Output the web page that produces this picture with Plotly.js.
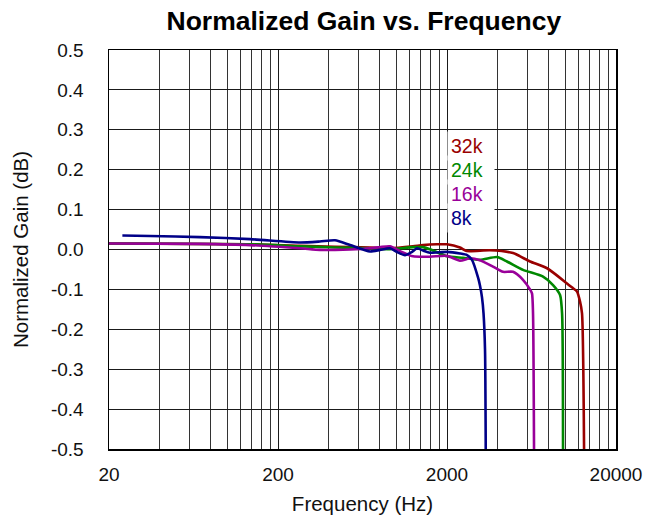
<!DOCTYPE html>
<html>
<head>
<meta charset="utf-8">
<script src="https://cdn.plot.ly/plotly-3.0.1.min.js"></script>
<style>html,body{margin:0;padding:0;background:#fff;}#chart{width:658px;height:521px;}</style>
</head>
<body>
<div id="chart"></div>
<script>
// Series: 32k
const f32 = [20, 137, 270, 435, 700, 920, 1258, 1442, 1745, 2000, 2388, 2627, 3590, 4916, 6194, 7816, 10258, 11134, 11754, 12243, 12586, 12943];
const g32 = [0.015, 0.013, 0.009, 0.007, 0.005, 0.003, 0.008, 0.011, 0.013, 0.013, 0.005, -0.004, -0.002, -0.009, -0.03, -0.047, -0.085, -0.097, -0.105, -0.13, -0.16, -0.5];
// Series: 24k
const f24 = [20, 137, 270, 435, 700, 920, 1258, 1442, 1600, 2000, 2488, 3134, 3952, 4528, 5634, 7400, 8482, 9332, 9592, 9718];
const g24 = [0.015, 0.013, 0.008, 0.005, 0.003, 0.001, 0.006, 0.006, 0.0, -0.017, -0.021, -0.026, -0.019, -0.03, -0.051, -0.068, -0.089, -0.114, -0.16, -0.5];
// Series: 16k
const f16 = [20, 69, 137, 270, 354, 435, 534, 700, 803, 920, 1054, 1258, 1586, 2000, 2388, 2737, 3134, 3742, 4290, 4916, 5634, 6194, 6368, 6457, 6546];
const g16 = [0.015, 0.014, 0.011, 0.003, -0.001, -0.001, 0.0, 0.003, 0.006, 0.008, -0.004, -0.017, -0.018, -0.016, -0.028, -0.022, -0.027, -0.043, -0.056, -0.056, -0.076, -0.10, -0.11, -0.16, -0.5];
// Series: 8k
const f8 = [24, 35, 69, 137, 270, 354, 435, 534, 700, 803, 920, 1000, 1128, 1250, 1328, 1450, 1586, 2000, 2388, 2627, 2812, 3051, 3134, 3222, 3290, 3357, 3390];
const g8 = [0.035, 0.034, 0.031, 0.026, 0.0175, 0.020, 0.023, 0.011, -0.005, -0.001, 0.003, -0.005, -0.014, -0.005, 0.003, -0.003, -0.008, -0.006, -0.010, -0.014, -0.026, -0.07, -0.09, -0.12, -0.16, -0.25, -0.5];

const seriesNames = ["32k", "24k", "16k", "8k"];
const seriesColors = ["#990000", "#008800", "#990099", "#000088"];
const labelY = [0.26, 0.20, 0.14, 0.08];

const xTickVals = [20, 200, 2000, 20000];
const xTickText = ["20", "200", "2000", "20000"];
const yTickVals = [-0.5, -0.4, -0.3, -0.2, -0.1, 0.0, 0.1, 0.2, 0.3, 0.4, 0.5];
const yTickText = ["-0.5", "-0.4", "-0.3", "-0.2", "-0.1", "0.0", "0.1", "0.2", "0.3", "0.4", "0.5"];

// minor grid at 2..9 multiples of each decade start (20, 200, 2000)
const minorVals = [];
[20, 200, 2000].forEach(function (d) { for (let k = 2; k <= 9; k++) minorVals.push(d * k); });

const FONT = "Liberation Sans, Arial, sans-serif";

const xs = [f32, f24, f16, f8];
const ys = [g32, g24, g16, g8];
const traces = xs.map(function (x, i) {
  return {
    x: x, y: ys[i], type: "scatter", mode: "lines", name: seriesNames[i],
    line: { color: seriesColors[i], width: 2.6, shape: "spline", smoothing: 0.6 },
    showlegend: false, hoverinfo: "skip"
  };
});

const annotations = seriesNames.map(function (n, i) {
  return {
    text: n, xref: "paper", yref: "y", x: 0.6667, y: labelY[i],
    xanchor: "left", yanchor: "middle", showarrow: false,
    width: 40, align: "left", borderpad: 3, bgcolor: "#ffffff",
    font: { family: FONT, size: 19.5, color: seriesColors[i] }
  };
});

const layout = {
  width: 658, height: 521,
  margin: { l: 109, r: 42, t: 50, b: 72 },
  paper_bgcolor: "#ffffff", plot_bgcolor: "#ffffff",
  font: { family: FONT, size: 19, color: "#111" },
  title: {
    text: "<b>Normalized Gain vs. Frequency</b>",
    x: 0.553, xanchor: "center", y: 0.96, yanchor: "middle",
    font: { family: FONT, size: 26.5, color: "#000" }
  },
  xaxis: {
    type: "log", range: [Math.log10(20), Math.log10(20000)],
    tickmode: "array", tickvals: xTickVals, ticktext: xTickText,
    ticks: "", ticklabelstandoff: 8,
    showgrid: true, gridcolor: "#1a1a1a", gridwidth: 1,
    minor: { tickmode: "array", tickvals: minorVals, showgrid: true, gridcolor: "#333", gridwidth: 1, ticks: "" },
    showline: true, linecolor: "#000", linewidth: 1.5, mirror: true,
    zeroline: false,
    title: { text: "Frequency (Hz)", standoff: 12, font: { size: 20.5, color: "#111" } }
  },
  yaxis: {
    range: [-0.5, 0.5],
    tickmode: "array", tickvals: yTickVals, ticktext: yTickText,
    ticks: "", ticklabelstandoff: 20,
    showgrid: true, gridcolor: "#1a1a1a", gridwidth: 1,
    showline: true, linecolor: "#000", linewidth: 1.5, mirror: true,
    zeroline: false,
    title: { text: "Normalized Gain (dB)", standoff: 17, font: { size: 20.5, color: "#111" } }
  },
  annotations: annotations
};

Plotly.newPlot("chart", traces, layout, { staticPlot: true, displayModeBar: false });
</script>
</body>
</html>
